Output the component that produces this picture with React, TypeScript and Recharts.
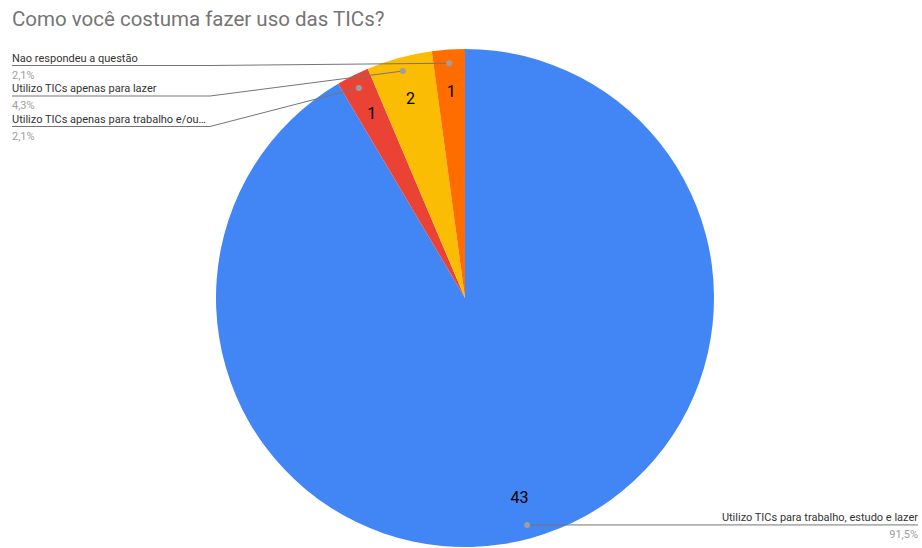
import React from 'react'
import { PieChart, Pie, Cell } from 'recharts'

const categories = [
  'Utilizo TICs para trabalho, estudo e lazer',
  'Utilizo TICs apenas para trabalho e/ou…',
  'Utilizo TICs apenas para lazer',
  'Nao respondeu a questão',
]
const counts = [43, 1, 2, 1]
const colors = ['#4285F4', '#EA4335', '#FBBC04', '#FF6D01']

const data = categories.map((name, i) => ({ name, value: counts[i] }))

const RADIAN = Math.PI / 180
const FONT = 'Roboto, Arial, sans-serif'

const fmtPct = (p: number) => (p * 100).toFixed(1).replace('.', ',') + '%'

const renderLabel = (props: any) => {
  const { cx, cy, midAngle, outerRadius, percent, index, value, name } = props
  const cos = Math.cos(-midAngle * RADIAN)
  const sin = Math.sin(-midAngle * RADIAN)
  const vx = cx + outerRadius * 0.83 * cos
  const vy = cy + outerRadius * 0.83 * sin
  const dx = cx + outerRadius * 0.945 * cos
  const dy = cy + outerRadius * 0.945 * sin

  let path: string
  let tx: number
  let ly: number
  let anchor: 'start' | 'end'
  if (index === 0) {
    // big slice: label to the bottom right
    ly = dy
    tx = 918
    anchor = 'end'
    path = `M${dx},${dy} L${tx},${ly}`
  } else {
    // small slices: stacked on the left, top one is the last slice
    const slot = categories.length - 1 - index
    ly = 65.5 + slot * 30.5
    tx = 12
    anchor = 'start'
    path = `M${tx},${ly} L210,${ly} L${dx},${dy}`
  }

  return (
    <g>
      <text x={vx} y={vy} textAnchor="middle" dominantBaseline="central" fontSize={16} fill="#000" fontFamily={FONT}>
        {value}
      </text>
      <path d={path} stroke="#757575" strokeWidth={1} fill="none" />
      <circle cx={dx} cy={dy} r={3} fill="#9e9e9e" />
      <text x={tx} y={ly - 4} textAnchor={anchor} fontSize={11} fill="#333" fontFamily={FONT}>
        {name}
      </text>
      <text x={tx} y={ly + 13} textAnchor={anchor} fontSize={11} fill="#9e9e9e" fontFamily={FONT}>
        {fmtPct(percent)}
      </text>
    </g>
  )
}

export default function App() {
  return (
    <div style={{ position: 'absolute', left: 0, top: 0, width: 922, height: 548, background: '#fff' }}>
      <div
        style={{
          position: 'absolute',
          left: 12,
          top: 7,
          fontSize: 20.5,
          color: '#757575',
          fontFamily: FONT,
          whiteSpace: 'nowrap',
        }}
      >
        Como você costuma fazer uso das TICs?
      </div>
      <PieChart width={922} height={548} margin={{ top: 0, right: 0, bottom: 0, left: 0 }}>
        <Pie
          data={data}
          dataKey="value"
          nameKey="name"
          cx={465}
          cy={298}
          outerRadius={249}
          startAngle={90}
          endAngle={-270}
          stroke="none"
          label={renderLabel}
          labelLine={false}
          isAnimationActive={false}
        >
          {data.map((d, i) => (
            <Cell key={d.name} fill={colors[i]} />
          ))}
        </Pie>
      </PieChart>
    </div>
  )
}
